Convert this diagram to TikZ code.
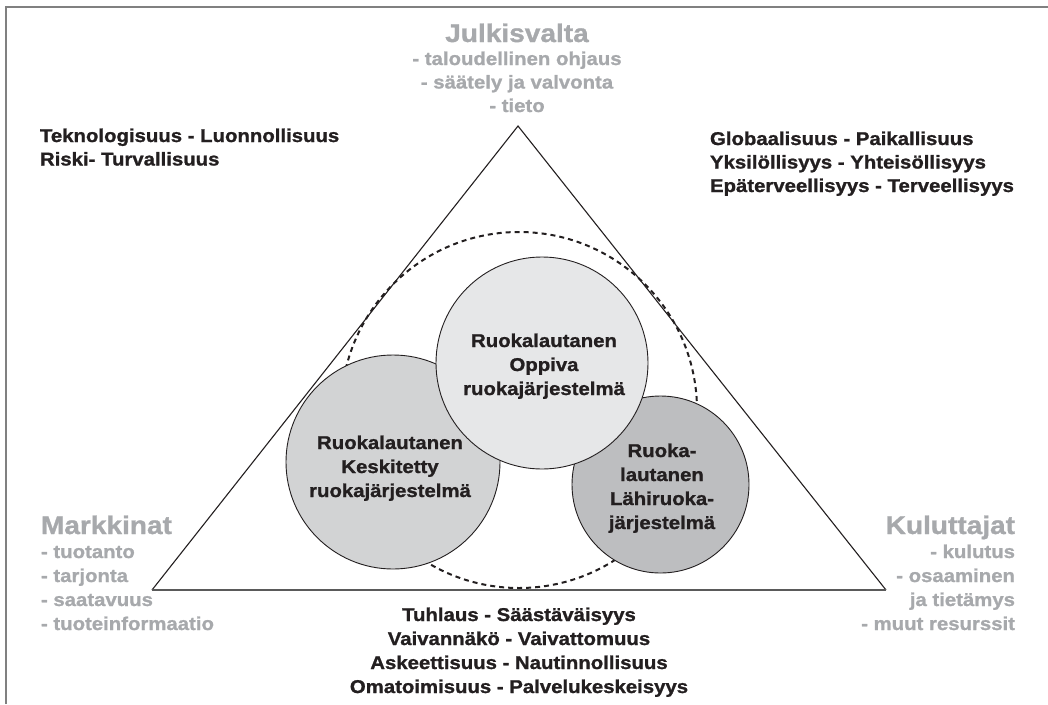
\documentclass[tikz,border=0pt]{standalone}
\usepackage{fontspec}
\setmainfont{Liberation Sans}[FakeStretch=1.1, BoldFont={Liberation Sans Bold}, BoldFeatures={FakeBold=1.2}]
\definecolor{txtgray}{RGB}{167,169,172}
\definecolor{ink}{RGB}{35,31,32}
\definecolor{fillA}{RGB}{230,231,232}
\definecolor{fillB}{RGB}{210,211,212}
\definecolor{fillC}{RGB}{189,190,192}
\definecolor{framegray}{RGB}{128,128,128}
\definecolor{basegray}{RGB}{90,90,90}
\tikzset{
  txtbase/.style={inner sep=0pt, outer sep=0pt},
  blk/.style={txtbase, text=ink, font=\bfseries\fontsize{18.5}{23.5}\selectfont},
  blkc/.style={txtbase, text=ink, font=\bfseries\fontsize{18.5}{24}\selectfont, align=center},
  grayhead/.style={txtbase, text=txtgray, font=\bfseries\fontsize{25.5}{30}\selectfont},
  graylist/.style={txtbase, text=txtgray, font=\bfseries\fontsize{18.5}{24}\selectfont},
  plate/.style={circle, draw=ink, line width=0.9pt, inner sep=0pt, outer sep=0pt},
  ring/.style={circle, draw=ink, line width=2pt, dash pattern=on 5pt off 4pt, inner sep=0pt},
  side/.style={draw=ink, line width=1.1pt},
  basel/.style={draw=basegray, line width=2pt},
  framel/.style={draw=framegray, line width=2pt}
}
\begin{document}
\begin{tikzpicture}[x=1pt,y=-1pt]
\useasboundingbox (0,0) rectangle (1048,704);
% frame (top and left only)
\coordinate (f1) at (6,704);
\coordinate (f2) at (6,7);
\coordinate (f3) at (1048,7);
\draw[framel] (f1) -- (f2) -- (f3);
% triangle
\coordinate (apex) at (518,126);
\coordinate (bl) at (152,590);
\coordinate (br) at (886,590);
\draw[side] (bl) -- (apex) -- (br);
\draw[basel] (bl) -- (br);
% dashed ring
\node[ring, minimum size=356pt] (ring) at (519,410) {};
% plates
\node[plate, fill=fillB, minimum size=214pt] (keski) at (393,462) {};
\node[plate, fill=fillC, minimum size=177pt] (lahi) at (660.5,484.5) {};
\node[plate, fill=fillA, minimum size=212pt] (oppiva) at (542,363) {};
% plate texts (base = last line's baseline)
\node[blkc, anchor=base] (oppivaT) at (544,395) {Ruokalautanen\\Oppiva\\ruokajärjestelmä};
\node[blkc, anchor=base] (keskiT) at (390,497) {Ruokalautanen\\Keskitetty\\ruokajärjestelmä};
\node[blkc, anchor=base] (lahiT) at (662,529) {Ruoka-\\lautanen\\Lähiruoka-\\järjestelmä};
% actors
\node[grayhead, anchor=base] (julk) at (517,42) {Julkisvalta};
\node[graylist, anchor=base, align=center, font=\bfseries\fontsize{18.5}{23.5}\selectfont] (julkL) at (517,112) {- taloudellinen ohjaus\\- säätely ja valvonta\\- tieto};
\node[grayhead, anchor=base west] (markk) at (41,534) {Markkinat};
\node[graylist, anchor=base west, align=left] (markkL) at (41,630) {- tuotanto\\- tarjonta\\- saatavuus\\- tuoteinformaatio};
\node[grayhead, anchor=base east] (kulu) at (1015,534) {Kuluttajat};
\node[graylist, anchor=base east, align=right] (kuluL) at (1015,630) {- kulutus\\- osaaminen\\ja tietämys\\- muut resurssit};
% value pairs
\node[blk, anchor=base west, align=left] (tl) at (40,165.5) {Teknologisuus - Luonnollisuus\\Riski- Turvallisuus};
\node[blk, anchor=base west, align=left] (tr) at (710,192) {Globaalisuus - Paikallisuus\\Yksilöllisyys - Yhteisöllisyys\\Epäterveellisyys - Terveellisyys};
\node[blkc, anchor=base] (bot) at (519,693) {Tuhlaus - Säästäväisyys\\Vaivannäkö - Vaivattomuus\\Askeettisuus - Nautinnollisuus\\Omatoimisuus - Palvelukeskeisyys};
\end{tikzpicture}
\end{document}
